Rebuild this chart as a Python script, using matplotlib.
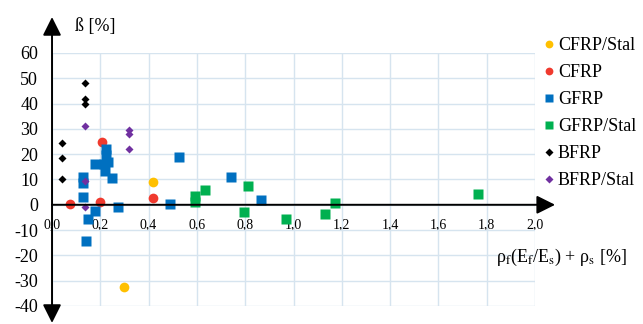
import matplotlib
matplotlib.use("Agg")
import matplotlib.pyplot as plt

plt.rcParams['font.family'] = ['Liberation Serif', 'DejaVu Serif']
plt.rcParams['mathtext.fontset'] = 'stix'
plt.rcParams['axes.unicode_minus'] = False

# dane
cfrp_stal_x = [0.42, 0.30]
cfrp_stal_y = [9.0, -32.5]
cfrp_x = [0.075, 0.20, 0.205, 0.42]
cfrp_y = [0.5, 1.0, 24.8, 2.5]
gfrp_x = [0.13, 0.13, 0.13, 0.15, 0.14, 0.18, 0.18, 0.225, 0.225, 0.23,
          0.215, 0.22, 0.25, 0.275, 0.49, 0.525, 0.74, 0.865]
gfrp_y = [11.0, 8.5, 3.0, -5.5, -14.5, -2.5, 16.0, 22.0, 19.5, 17.0,
          16.0, 13.5, 10.5, -0.8, 0.5, 19.0, 10.8, 1.8]
gfrp_stal_x = [0.59, 0.59, 0.635, 0.81, 0.795, 0.97, 1.13, 1.17, 1.765]
gfrp_stal_y = [1.2, 3.5, 5.8, 7.3, -2.8, -5.5, -3.8, 0.8, 4.3]
bfrp_x = [0.04, 0.04, 0.04, 0.135, 0.135, 0.135]
bfrp_y = [24.5, 18.5, 10.2, 48.0, 42.0, 40.0]
bfrp_stal_x = [0.135, 0.32, 0.32, 0.32, 0.135, 0.135]
bfrp_stal_y = [31.0, 29.5, 28.0, 22.2, 9.5, -0.8]

x_ticks = [0.0, 0.2, 0.4, 0.6, 0.8, 1.0, 1.2, 1.4, 1.6, 1.8, 2.0]
x_tick_labels = ["0,0", "0,2", "0,4", "0,6", "0,8", "1,0", "1,2", "1,4", "1,6", "1,8", "2,0"]
y_ticks = [-40, -30, -20, -10, 0, 10, 20, 30, 40, 50, 60]

fig = plt.figure(figsize=(6.43, 3.24), dpi=100)
ax = fig.add_axes([0.0809, 0.0556, 0.7512, 0.7809])

ax.plot(cfrp_stal_x, cfrp_stal_y, 'o', color='#FFC000', ms=7, mec='none', label='CFRP/Stal')
ax.plot(cfrp_x, cfrp_y, 'o', color='#F03A2E', ms=7, mec='none', label='CFRP')
ax.plot(gfrp_x, gfrp_y, 's', color='#0070C0', ms=7, mec='none', label='GFRP')
ax.plot(gfrp_stal_x, gfrp_stal_y, 's', color='#00B050', ms=7, mec='none', label='GFRP/Stal')
ax.plot(bfrp_x, bfrp_y, 'D', color='black', ms=4.5, mec='none', label='BFRP')
ax.plot(bfrp_stal_x, bfrp_stal_y, 'D', color='#7030A0', ms=4.5, mec='none', label='BFRP/Stal')

ax.set_xlim(0, 2.0)
ax.set_ylim(-40, 60)
ax.set_xticks(x_ticks)
ax.set_xticklabels(x_tick_labels, family='DejaVu Sans', fontweight='bold', fontsize=8.8, color='#404040')
ax.set_yticks(y_ticks)
ax.tick_params(axis='y', length=0, pad=10, labelsize=13)
ax.tick_params(axis='x', length=0, pad=10)
ax.grid(True, color='#D6E4EF', lw=1)
ax.set_axisbelow(True)
for s in ax.spines.values():
    s.set_visible(False)
ax.spines['bottom'].set_position(('data', 0))

# osie ze strzalkami
ax.annotate('', xy=(0, 74.2), xytext=(0, -46.7), annotation_clip=False,
            arrowprops=dict(arrowstyle='<|-|>,head_length=0.8,head_width=0.4',
                            color='black', lw=1.4, mutation_scale=14, shrinkA=0, shrinkB=0))
ax.annotate('', xy=(2.083, 0), xytext=(0, 0), annotation_clip=False,
            arrowprops=dict(arrowstyle='-|>,head_length=0.8,head_width=0.4',
                            color='black', lw=1.4, mutation_scale=14, shrinkA=0, shrinkB=0))

ax.text(0.178, 70.3, "ß [%]", fontsize=13, ha='center', va='center', clip_on=False)
ax.text(2.38, -21, r"ρ$_\mathrm{f}$(E$_\mathrm{f}$/E$_\mathrm{s}$) + ρ$_\mathrm{s}$ [%]",
        fontsize=13, ha='right', va='center', clip_on=False)

ax.legend(loc='upper left', bbox_to_anchor=(0.845, 0.885), bbox_transform=fig.transFigure,
          frameon=False, fontsize=13, handlelength=0.6, handletextpad=0.2,
          labelspacing=0.55, markerscale=0.8, borderpad=0, borderaxespad=0)

fig.savefig("out.png", dpi=100)
